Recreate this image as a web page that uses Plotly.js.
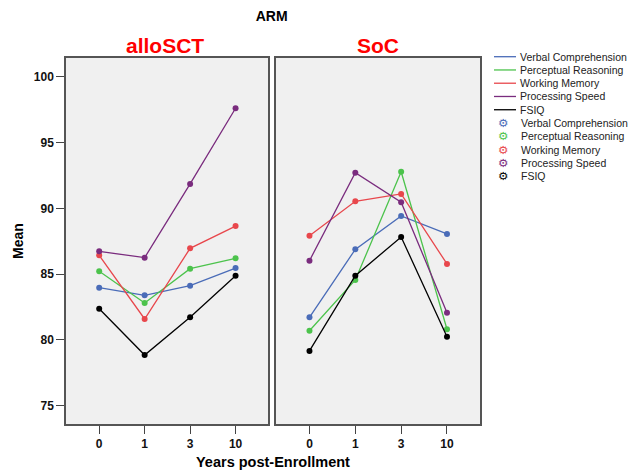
<!DOCTYPE html>
<html>
<head>
<meta charset="utf-8">
<script src="https://cdn.plot.ly/plotly-3.0.1.min.js"></script>
<style>
  html, body { margin: 0; padding: 0; background: #ffffff; }
  #chart { width: 634px; height: 472px; }
</style>
</head>
<body>
<div id="chart"></div>
<script>
// ---- data ----
const categories = ['0', '1', '3', '10'];
const panelNames = ['alloSCT', 'SoC'];
const seriesNames = ['Verbal Comprehension', 'Perceptual Reasoning', 'Working Memory', 'Processing Speed', 'FSIQ'];
const seriesColors = ['#4a6cb8', '#4cc34c', '#e8474c', '#7a2c7e', '#000000'];

const alloVerbal     = [83.97, 83.39, 84.12, 85.46];
const alloPerceptual = [85.21, 82.80, 85.41, 86.20];
const alloWorking    = [86.43, 81.59, 86.96, 88.65];
const alloProcessing = [86.73, 86.25, 91.85, 97.60];
const alloFSIQ       = [82.37, 78.85, 81.72, 84.88];

const socVerbal      = [81.72, 86.88, 89.42, 88.05];
const socPerceptual  = [80.70, 84.55, 92.78, 80.81];
const socWorking     = [87.92, 90.53, 91.09, 85.77];
const socProcessing  = [86.02, 92.71, 90.46, 82.07];
const socFSIQ        = [79.16, 84.88, 87.82, 80.24];

const yTicks = [75, 80, 85, 90, 95, 100];

// ---- build ----
const alloSeries = [alloVerbal, alloPerceptual, alloWorking, alloProcessing, alloFSIQ];
const socSeries  = [socVerbal, socPerceptual, socWorking, socProcessing, socFSIQ];

const traces = [];
function addPanel(seriesList, xa, ya, panel) {
  seriesList.forEach((vals, i) => {
    traces.push({
      type: 'scatter', mode: 'lines+markers',
      x: categories, y: vals,
      xaxis: xa, yaxis: ya,
      name: seriesNames[i] + ' (' + panel + ')',
      showlegend: false,
      line: { color: seriesColors[i], width: 1.3 },
      marker: { color: seriesColors[i], size: 6 },
      hoverinfo: 'x+y+name'
    });
  });
}
addPanel(alloSeries, 'x', 'y', panelNames[0]);
addPanel(socSeries, 'x2', 'y2', panelNames[1]);

// geometry helpers (plot area is 66..480 x, 58..424 y)
const L = 66, T = 58, PW = 414, PH = 366;
const px2x = px => (px - L) / PW;
const py2y = py => (T + PH - py) / PH;

const annotations = [];
const shapes = [];
const FONT = 'Arial, Liberation Sans, sans-serif';

// panel titles
annotations.push({ text: '<b>' + panelNames[0] + '</b>', xref: 'x domain', yref: 'paper', x: 0.49, y: py2y(46),
  xanchor: 'center', yanchor: 'middle', showarrow: false,
  font: { family: FONT, size: 21, color: '#ff0000' } });
annotations.push({ text: '<b>' + panelNames[1] + '</b>', xref: 'x2 domain', yref: 'paper', x: 0.5, y: py2y(46),
  xanchor: 'center', yanchor: 'middle', showarrow: false,
  font: { family: FONT, size: 21, color: '#ff0000' } });

// x axis title spanning both panels
annotations.push({ text: '<b>Years post-Enrollment</b>', xref: 'paper', yref: 'paper', x: px2x(272.5), y: py2y(462),
  xanchor: 'center', yanchor: 'middle', showarrow: false,
  font: { family: FONT, size: 14.5, color: '#000' } });

// legend (line entries, then marker entries)
const legFont = { family: FONT, size: 10.5, color: '#222' };
seriesNames.forEach((nm, i) => {
  const yl = 56.7 + 13.26 * i;
  shapes.push({ type: 'line', xref: 'paper', yref: 'paper', x0: px2x(494), x1: px2x(516), y0: py2y(yl), y1: py2y(yl),
    line: { color: seriesColors[i], width: 1.3 } });
  annotations.push({ text: nm, xref: 'paper', yref: 'paper', x: px2x(517.5), y: py2y(yl), xanchor: 'left', yanchor: 'middle',
    showarrow: false, font: legFont });
  const ym = 56.7 + 13.26 * (i + 5);
  annotations.push({ text: '<b>\u2699</b>', xref: 'paper', yref: 'paper', x: px2x(503), y: py2y(ym), xanchor: 'center', yanchor: 'middle',
    showarrow: false, height: 12, font: { family: 'DejaVu Sans', size: 11.5, color: seriesColors[i] } });
  annotations.push({ text: nm, xref: 'paper', yref: 'paper', x: px2x(518.5), y: py2y(ym), xanchor: 'left', yanchor: 'middle',
    showarrow: false, font: legFont });
});

const axFont = { family: FONT, size: 12, color: '#111', weight: 'bold' };
const xBase = {
  type: 'category', range: [-0.73, 3.72], showgrid: false, zeroline: false,
  showline: true, mirror: true, linecolor: '#555', linewidth: 1.5,
  ticks: 'outside', ticklen: 8, tickwidth: 1.2, tickcolor: '#444',
  tickfont: axFont, fixedrange: true
};
const yBase = {
  range: [73.61, 101.42], showgrid: false, zeroline: false,
  showline: true, mirror: true, linecolor: '#555', linewidth: 1.5,
  tickvals: yTicks, ticktext: yTicks.map(String), tickfont: axFont, fixedrange: true
};

const layout = {
  width: 634, height: 472,
  margin: { l: 66, r: 154, t: 58, b: 48 },
  paper_bgcolor: '#ffffff', plot_bgcolor: '#f0f0f0',
  showlegend: false,
  title: { text: '<b>ARM</b>', x: 271.7 / 634, xanchor: 'center', y: 1 - 16 / 472, yanchor: 'middle',
    font: { family: FONT, size: 14, color: '#000' } },
  xaxis: Object.assign({}, xBase, { domain: [0, px2x(268.3)], anchor: 'y' }),
  xaxis2: Object.assign({}, xBase, { domain: [px2x(276), 1], anchor: 'y2' }),
  yaxis: Object.assign({}, yBase, { domain: [0, 1], anchor: 'x', ticks: 'outside', ticklen: 8, tickwidth: 1.2, tickcolor: '#444',
    title: { text: '<b>Mean</b>', font: { family: FONT, size: 14, color: '#000' }, standoff: 7 } }),
  yaxis2: Object.assign({}, yBase, { domain: [0, 1], anchor: 'x2', showticklabels: false, ticks: '' }),
  annotations: annotations,
  shapes: shapes
};

Plotly.newPlot('chart', traces, layout, { displayModeBar: false });
</script>
</body>
</html>
